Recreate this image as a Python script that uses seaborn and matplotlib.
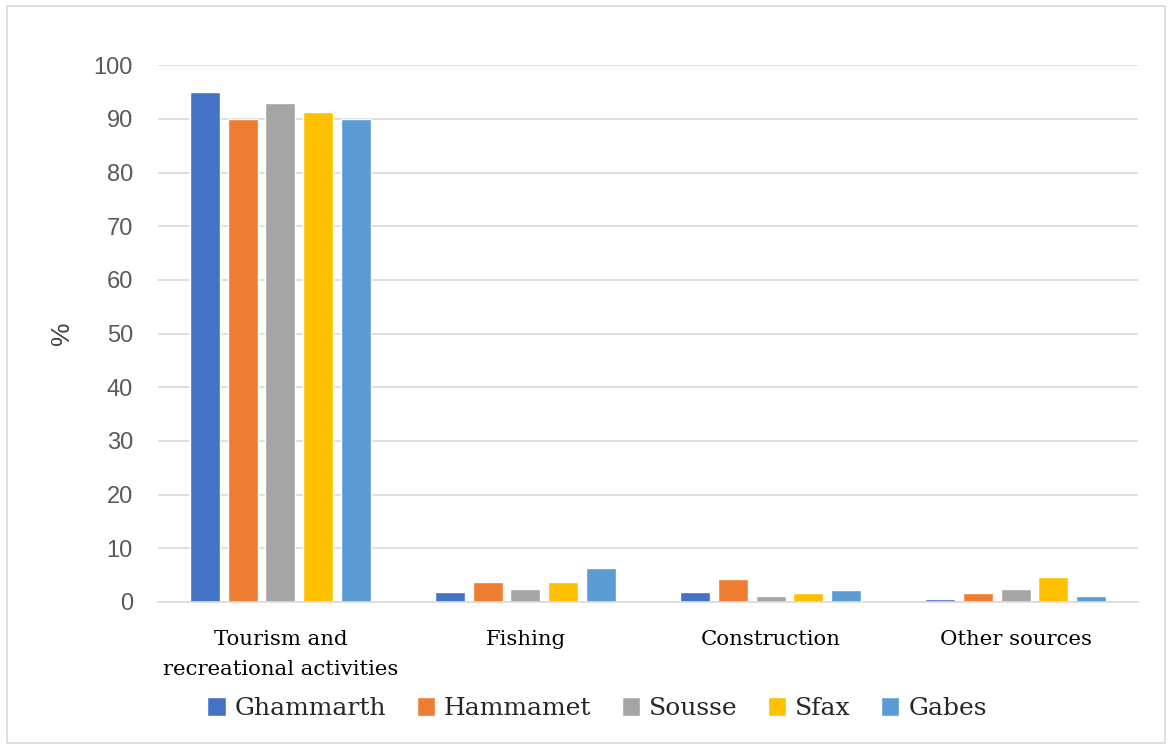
import matplotlib
matplotlib.use("Agg")
import matplotlib.pyplot as plt
from matplotlib.patches import Rectangle
import seaborn as sns
import pandas as pd

categories = ["Tourism and\nrecreational activities", "Fishing", "Construction", "Other sources"]
sites = ["Ghammarth", "Hammamet", "Sousse", "Sfax", "Gabes"]
ghammarth = [95.0, 1.9, 1.9, 0.6]
hammamet = [90.0, 3.7, 4.3, 1.6]
sousse = [93.0, 2.5, 1.2, 2.5]
sfax = [91.2, 3.7, 1.6, 4.6]
gabes = [90.0, 6.4, 2.2, 1.2]
yticks = [0, 10, 20, 30, 40, 50, 60, 70, 80, 90, 100]

palette = ["#4472C4", "#ED7D31", "#A5A5A5", "#FFC000", "#5B9BD5"]

series = [ghammarth, hammamet, sousse, sfax, gabes]
rows = []
for site, vals in zip(sites, series):
    for cat, v in zip(categories, vals):
        rows.append({"category": cat, "site": site, "value": v})
df = pd.DataFrame(rows)

sns.set_theme(style="white")
plt.rcParams["font.family"] = ["DejaVu Serif"]

fig = plt.figure(figsize=(11.72, 7.49), dpi=100)
ax = fig.add_axes([0.1348, 0.1963, 0.8362, 0.7167])

sns.barplot(data=df, x="category", y="value", hue="site", order=categories,
            hue_order=sites, palette=palette, width=0.77, gap=0.205,
            saturation=1, ax=ax, legend=True)

ax.set_ylim(0, 100)
ax.set_xlim(-0.5, 3.5)
ax.set_yticks(yticks)
ax.set_yticklabels([str(t) for t in yticks], fontsize=17, color="#595959",
                   family="Liberation Sans")
ax.tick_params(axis="x", labelsize=15.3, colors="#000000", pad=20, length=0)
ax.tick_params(axis="y", pad=18, length=0)
for lbl in ax.get_xticklabels():
    lbl.set_linespacing(1.75)
ax.yaxis.grid(True, color="#d9d9d9", linewidth=1.2)
ax.set_axisbelow(True)
for s in ["top", "right", "left"]:
    ax.spines[s].set_visible(False)
ax.spines["bottom"].set_color("#d9d9d9")
ax.spines["bottom"].set_linewidth(1.2)
ax.set_xlabel("")
ax.set_ylabel("%", fontsize=19, color="#404040", labelpad=14,
              family="Liberation Sans")

handles, labels = ax.get_legend_handles_labels()
ax.legend(handles, labels, loc="center", bbox_to_anchor=(0.448, -0.199),
          ncol=5, frameon=False, fontsize=18, handlelength=0.75,
          handleheight=0.75, handletextpad=0.35, columnspacing=1.2)

fig.patches.append(Rectangle((0.006, 0.008), 0.988, 0.984, transform=fig.transFigure,
                             fill=False, edgecolor="#d9d9d9", linewidth=1.2))

fig.savefig("out.png", dpi=100, facecolor="white")
